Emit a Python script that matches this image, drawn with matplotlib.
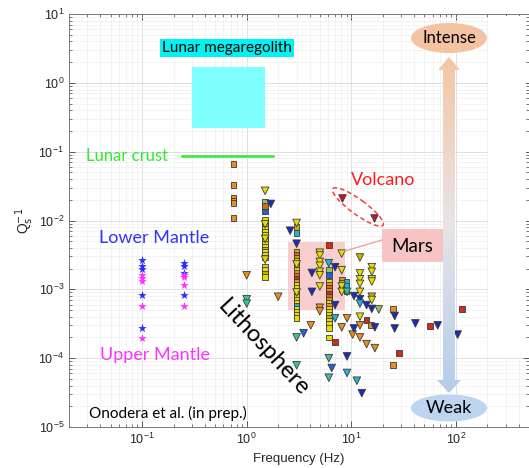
import matplotlib

matplotlib.use("Agg")
import matplotlib.pyplot as plt  # noqa: E402
import numpy as np  # noqa: E402
from matplotlib.colors import LinearSegmentedColormap  # noqa: E402
from matplotlib.patches import Ellipse, Polygon, Rectangle  # noqa: E402
from matplotlib.ticker import LogLocator, NullFormatter  # noqa: E402

# --- square markers: frequency (Hz), Q_s^-1, colour key ---
sq_freq = [
    0.75, 0.75, 0.75, 0.75, 0.75, 0.75,
    1.5, 1.5, 1.5, 1.5, 1.5, 1.5, 1.5, 1.5, 1.5, 1.5, 1.5,
    1.5, 1.5, 1.5, 1.5, 1.5, 1.5, 1.5, 1.5, 1.5, 1.5,
    3.0, 3.0, 3.0, 3.0, 3.0, 3.0, 3.0, 3.0, 3.0, 3.0, 3.0, 3.0, 3.0,
    3.0, 3.0, 3.0, 3.0, 3.0, 3.0, 3.0, 3.0, 3.0, 3.0, 3.0, 3.0,
    6.1, 6.1, 6.1, 6.1, 6.1, 6.1, 6.1, 6.1, 6.1, 6.1,
    6.1, 6.1, 6.1, 6.1, 6.1, 6.1, 6.1, 6.1, 6.1, 6.1,
    7.0, 8.1, 8.1, 8.1, 8.1, 9.0, 9.0, 9.0, 14.0, 15.5, 25.0, 25.0, 28.5, 57.0, 114.0,
]
sq_q = [
    0.066, 0.033, 0.0213, 0.0193, 0.0178, 0.0109,
    0.0186, 0.0162, 0.0135, 0.0102, 0.0092, 0.0083, 0.0075, 0.0068, 0.0062, 0.0056, 0.0051,
    0.0046, 0.0042, 0.0038, 0.0035, 0.0032, 0.0029, 0.0021, 0.0019, 0.0017, 0.0015,
    0.0081, 0.0066, 0.0035, 0.0032, 0.0029, 0.0026, 0.00234, 0.00212, 0.00191, 0.00173, 0.00157, 0.00142, 0.00128,
    0.00116, 0.00105, 0.00095, 0.00086, 0.00078, 0.0007, 0.00063, 0.00057, 0.00052, 0.00047, 0.000425, 0.000385,
    0.0044, 0.0019, 0.0016, 0.00128, 0.00116, 0.00105, 0.00095, 0.00086, 0.00078, 0.0007,
    0.00063, 0.00057, 0.00052, 0.00047, 0.000425, 0.000385, 0.00035, 0.000315, 0.000275, 0.0002,
    0.00017, 0.00137, 0.00125, 0.00112, 0.001, 0.00128, 0.00112, 0.00095, 0.00036, 0.0003, 0.00052, 7.9e-5, 0.00012, 0.00029, 0.00052,
]
sq_col = [
    "o", "o", "o", "o", "o", "o",
    "lg", "do", "b", "y", "y", "dy", "y", "y", "y", "o", "y",
    "y", "y", "dy", "y", "y", "y", "y", "y", "dy", "y",
    "dy", "c", "dy", "do", "o", "y", "y", "o", "y", "o", "do", "r", "o",
    "y", "y", "y", "o", "y", "y", "y", "c", "y", "y", "y", "y",
    "r", "lg", "b", "y", "o", "do", "o", "r", "do", "o",
    "y", "o", "y", "y", "y", "dy", "y", "y", "y", "y",
    "r", "o", "dy", "o", "dy", "c", "c", "lg", "r", "o", "o", "o", "r", "r", "r",
]

# --- downward triangle markers ---
tri_freq = [
    1.0, 1.0, 1.0, 1.5, 1.5, 1.5, 1.5, 1.7, 2.0, 2.6,
    3.0, 3.0, 3.0, 3.0, 3.0, 3.0, 3.5, 4.1, 4.2, 4.2,
    5.0, 5.0, 5.0, 5.0, 5.0, 5.0, 5.0, 5.0, 5.0,
    6.1, 6.1, 6.1, 6.5, 7.0, 7.0, 7.0,
    8.1, 8.1, 8.1, 8.1, 8.1, 9.1, 9.1, 9.1, 9.1,
    10.3, 10.6, 10.6, 11.3,
    12.1, 12.1, 12.1, 12.1, 12.1, 12.1, 12.1, 12.1, 12.1, 12.1,
    12.6, 14.0, 14.0,
    15.7, 15.7, 15.7, 15.7, 15.7, 15.7, 15.7, 16.8, 16.8, 18.3,
    26.0, 26.0, 41.0, 67.0, 104.0,
]
tri_q = [
    0.0016, 0.00072, 0.00062, 0.027, 0.0088, 0.0054, 0.0027, 0.0174, 0.00078, 0.0071,
    0.0092, 0.0046, 0.0023, 0.0009, 0.0002, 7.9e-5, 0.00023, 0.0003, 0.00173, 0.00092,
    0.0034, 0.0031, 0.0025, 0.0022, 0.0018, 0.0016, 0.0011, 0.00054, 0.00048,
    0.0024, 0.0001, 5.2e-5, 7.2e-5, 0.0021, 0.00059, 0.00038,
    0.0033, 0.0019, 0.0011, 0.00092, 0.00028, 0.00092, 0.00038, 0.000106, 6.1e-5,
    0.00022, 0.00027, 0.0008, 4.7e-5,
    0.0029, 0.0017, 0.0014, 0.0012, 0.00092, 0.00072, 0.00062, 0.0004, 0.0003, 0.0002,
    3.1e-5, 0.00016, 0.00059,
    0.0021, 0.0018, 0.0014, 0.0013, 0.00078, 0.0007, 0.00052, 0.00028, 0.00014, 0.00051,
    0.00041, 0.00027, 0.00032, 0.0003, 0.00022,
]
tri_col = [
    "o", "g", "g", "y", "y", "y", "y", "db", "o", "db",
    "y", "db", "y", "y", "g", "g", "b", "o", "db", "db",
    "y", "y", "y", "y", "y", "y", "y", "o", "o",
    "c", "g", "g", "b", "db", "db", "c",
    "y", "y", "y", "y", "o", "g", "o", "db", "c",
    "o", "db", "db", "c",
    "dy", "y", "y", "y", "y", "db", "c", "y", "o", "o",
    "db", "o", "db",
    "y", "y", "y", "y", "dy", "y", "db", "db", "o", "lg",
    "db", "db", "db", "db", "db",
]

volcano_freq = [8.1, 16.4]
volcano_q = [0.0213, 0.0109]

# mantle stars (lower = blue, upper = magenta)
lower_freq = [0.1, 0.1, 0.1, 0.1, 0.1, 0.25, 0.25, 0.25, 0.25]
lower_q = [2.67e-3, 2.2e-3, 1.98e-3, 8.3e-4, 2.75e-4, 2.45e-3, 2.2e-3, 1.75e-3, 8.3e-4]
upper_freq = [0.1, 0.1, 0.1, 0.1, 0.1, 0.25, 0.25, 0.25, 0.25]
upper_q = [1.62e-3, 1.47e-3, 1.33e-3, 5.7e-4, 1.97e-4, 1.62e-3, 1.5e-3, 1.15e-3, 5.7e-4]

# regions
mega_freq = (0.3, 1.5)
mega_q = (0.22, 1.7)
crust_freq = (0.24, 1.78)
crust_q = 0.087
mars_freq = (2.5, 8.7)
mars_q = (5.0e-4, 4.9e-3)

PALETTE = {
    "db": "#1B2BB5",
    "b": "#2060E0",
    "c": "#22B4D8",
    "g": "#36C4A0",
    "lg": "#8CC85A",
    "y": "#E6DC00",
    "dy": "#C8B400",
    "o": "#E8901E",
    "do": "#D86A14",
    "r": "#D42A1A",
}

FONT = "Lato"

fig = plt.figure(figsize=(5.29, 4.68), dpi=100)
ax = fig.add_axes([69 / 529, 41 / 468, 460 / 529, 413 / 468])
ax.set_xscale("log")
ax.set_yscale("log")
ax.set_xlim(0.02, 500)
ax.set_ylim(1e-5, 10)
ax.yaxis.set_major_locator(LogLocator(base=10, numticks=12))
ax.yaxis.set_minor_locator(LogLocator(base=10, subs=np.arange(2, 10), numticks=12))
ax.xaxis.set_minor_formatter(NullFormatter())
ax.yaxis.set_minor_formatter(NullFormatter())

ax.set_axisbelow(True)
ax.grid(True, which="major", color="#DADADA", linewidth=0.6)
ax.grid(True, which="minor", color="#EEEEEE", linewidth=0.5)
ax.tick_params(which="both", direction="in", top=True, right=True, colors="#404040",
               labelcolor="#262626", labelsize=9)
ax.tick_params(which="major", length=4, width=0.6)
ax.tick_params(which="minor", length=2, width=0.5)
for sp in ax.spines.values():
    sp.set_color("#7a7a7a")
    sp.set_linewidth(0.7)
for lab in ax.get_xticklabels() + ax.get_yticklabels():
    lab.set_family("Liberation Sans")

ax.set_xlabel("Frequency (Hz)", fontsize=9.5, color="#262626", family="Liberation Sans", labelpad=4)
ax.set_ylabel(r"Q$_\mathrm{s}^{-1}$", fontsize=10, color="#262626", family="Liberation Sans", labelpad=2)

# regions
ax.add_patch(Rectangle((mega_freq[0], mega_q[0]), mega_freq[1] - mega_freq[0], mega_q[1] - mega_q[0],
                       facecolor="#80FFFF", edgecolor="none", zorder=1))
ax.plot(crust_freq, [crust_q, crust_q], color="#33E833", linewidth=1.8, zorder=2)
ax.add_patch(Rectangle((mars_freq[0], mars_q[0]), mars_freq[1] - mars_freq[0], mars_q[1] - mars_q[0],
                       facecolor="#F8C6C6", edgecolor="none", alpha=0.85, zorder=1))

# data markers
ax.scatter(lower_freq, lower_q, marker="*", s=42, color="#2B2BFF", linewidths=0, zorder=3)
ax.scatter(upper_freq, upper_q, marker="*", s=42, color="#FF33FF", linewidths=0, zorder=3)
ax.scatter(sq_freq, sq_q, marker="s", s=17, c=[PALETTE[k] for k in sq_col],
           edgecolors="#3a3a3a", linewidths=0.6, zorder=3)
ax.scatter(tri_freq, tri_q, marker="v", s=30, c=[PALETTE[k] for k in tri_col],
           edgecolors="#3a3a3a", linewidths=0.6, zorder=4)
ax.scatter(volcano_freq, volcano_q, marker="v", s=30, color="#C0182A",
           edgecolors="#3a3a3a", linewidths=0.6, zorder=4)

# --- annotation layer in pixel coordinates ---
ov = fig.add_axes([0, 0, 1, 1], zorder=5)
ov.axis("off")

ov.add_patch(Rectangle((488, 16), 38, 342, facecolor="white", edgecolor="none"))

arrow_pts = [(449, 57), (438, 70), (443, 70), (443, 380), (437, 380), (449, 393),
             (461, 380), (455, 380), (455, 70), (460, 70)]
grad = np.linspace(0, 1, 256).reshape(-1, 1)
cmap = LinearSegmentedColormap.from_list("iw", ["#F5C6A5", "#E8E4E6", "#B3CDEA"])
im = ov.imshow(grad, extent=(437, 461, 393, 57), cmap=cmap, aspect="auto", zorder=2)
clip = Polygon(arrow_pts, closed=True, facecolor="none", edgecolor="none", transform=ov.transData)
ov.add_patch(clip)
im.set_clip_path(clip)

ov.add_patch(Ellipse((449, 38), 76, 30, facecolor="#F4C4A2", edgecolor="none", zorder=3))
ov.add_patch(Ellipse((449, 408), 76, 27, facecolor="#BDD5EE", edgecolor="none", zorder=3))
ov.text(449, 38, "Intense", fontsize=12, family=FONT, ha="center", va="center", zorder=4)
ov.text(449, 408, "Weak", fontsize=13, family=FONT, ha="center", va="center", zorder=4)

ov.add_patch(Ellipse((358, 207), 62, 15, angle=36, facecolor="none", edgecolor="#F04040",
                     linestyle=(0, (3, 2)), linewidth=1.1))
ov.text(383, 180, "Volcano", fontsize=13, family=FONT, color="#FF1A1A", ha="center", va="center")

ov.plot([345, 382], [251, 240], color="#F4A0A0", linewidth=1.0)
ov.add_patch(Rectangle((382, 229), 61, 33, facecolor="#F7C4C4", edgecolor="none"))
ov.text(412, 246, "Mars", fontsize=13.5, family=FONT, ha="center", va="center")

ov.text(227, 48, "Lunar megaregolith", fontsize=11, family=FONT, ha="center", va="center",
        bbox=dict(boxstyle="square,pad=0.15", facecolor="#00F2F2", edgecolor="none"))
ov.text(127, 156, "Lunar crust", fontsize=12, family=FONT, color="#33E833", ha="center", va="center")
ov.text(154, 238, "Lower Mantle", fontsize=13, family=FONT, color="#3333FF", ha="center", va="center")
ov.text(155, 355, "Upper Mantle", fontsize=13, family=FONT, color="#FF33FF", ha="center", va="center")
ov.text(263, 348, "Lithosphere", fontsize=17, family=FONT, rotation=-47, ha="center", va="center",
        rotation_mode="anchor")
ov.text(168, 413, "Onodera et al. (in prep.)", fontsize=11, family=FONT, ha="center", va="center")

ov.set_xlim(0, 529)
ov.set_ylim(468, 0)

fig.savefig("out.png", dpi=100)
